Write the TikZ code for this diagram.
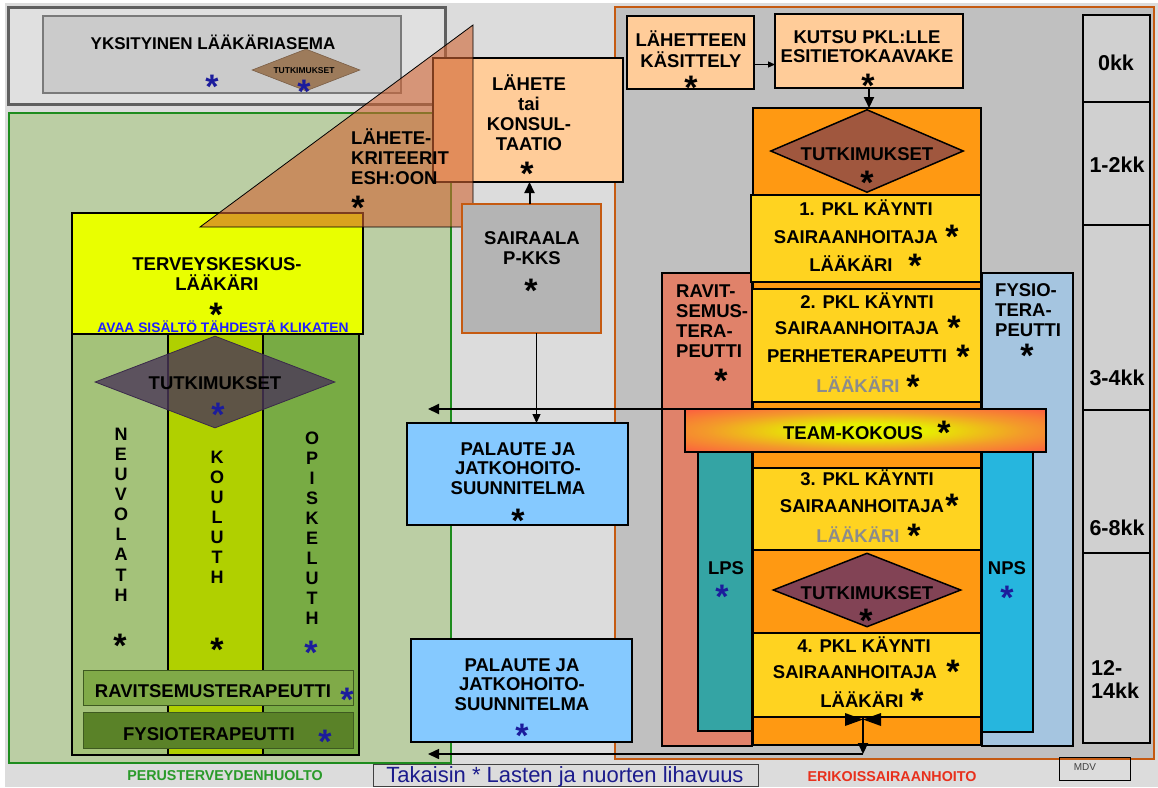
\documentclass[tikz,border=0pt]{standalone}
\usepackage{fontspec}
\setmainfont{Liberation Sans}
\usetikzlibrary{arrows.meta,shapes.geometric}
\definecolor{bgG}{HTML}{DCDCDC}
\definecolor{yksO}{HTML}{E0E0E0}
\definecolor{yksL}{HTML}{5F5F5F}
\definecolor{yksI}{HTML}{CBCBCB}
\definecolor{yksIL}{HTML}{7A7A7A}
\definecolor{smD}{HTML}{9D7B5B}
\definecolor{smL}{HTML}{7A5E46}
\definecolor{grB}{HTML}{BBCEA4}
\definecolor{grL}{HTML}{1E8C1E}
\definecolor{erB}{HTML}{C0C0C0}
\definecolor{erL}{HTML}{C55A11}
\definecolor{peach}{HTML}{FFCC99}
\definecolor{triC}{HTML}{D06433}
\definecolor{saiB}{HTML}{B4B4B4}
\definecolor{palB}{HTML}{85C9FF}
\definecolor{timeB}{HTML}{D0D0D0}
\definecolor{ravB}{HTML}{E0826A}
\definecolor{fysB}{HTML}{A5C5E0}
\definecolor{lpsB}{HTML}{34A4A4}
\definecolor{npsB}{HTML}{26B6DE}
\definecolor{orC}{HTML}{FF9912}
\definecolor{yeC}{HTML}{FFD320}
\definecolor{dOneC}{HTML}{A0573E}
\definecolor{dTwoC}{HTML}{824355}
\definecolor{tkY}{HTML}{E9FF00}
\definecolor{colA}{HTML}{A4C27A}
\definecolor{colB}{HTML}{B0D000}
\definecolor{colC}{HTML}{78AB44}
\definecolor{ldC}{HTML}{4A3658}
\definecolor{ldL}{HTML}{3A2A4A}
\definecolor{rvC}{HTML}{80AA48}
\definecolor{fyC}{HTML}{5A8228}
\definecolor{rvL}{HTML}{3E5A20}
\definecolor{stB}{HTML}{1C1C9C}
\definecolor{avB}{HTML}{2020FF}
\definecolor{grT}{HTML}{2A9A2A}
\definecolor{erT}{HTML}{E8301C}
\definecolor{tkT}{HTML}{1C1C8C}
\definecolor{gyT}{HTML}{8C8C8C}
\definecolor{tmY}{HTML}{E6F000}
\definecolor{tmO}{HTML}{F39A2A}
\definecolor{tmR}{HTML}{FF4848}
\pgfdeclareradialshading{teamsh}{\pgfpoint{0bp}{0bp}}{color(0bp)=(tmY); color(8bp)=(tmY); color(22bp)=(tmO); color(40bp)=(tmR); color(80bp)=(tmR)}
\newcommand\stx{\raisebox{-14.8pt}[9.6pt][0pt]{*}}
\begin{document}
\begin{tikzpicture}[x=1pt,y=-1pt,
  bx/.style={draw=black, line width=2.6pt, anchor=north west, inner sep=0pt, outer sep=0pt},
  lb/.style={font=\bfseries\fontsize{18.5}{20}\selectfont, align=center, inner sep=0pt},
  ln/.style={font=\bfseries\fontsize{18.5}{20}\selectfont, inner sep=0pt, anchor=base, yshift=-6.6pt},
  sr/.style={font=\bfseries\fontsize{34}{34}\selectfont, inner sep=0pt, anchor=center},
  arr/.style={-{Triangle[length=11pt,width=10pt]}, line width=2pt},
  tarr/.style={-{Triangle[length=7pt,width=6pt]}, line width=1.1pt},
  marr/.style={-{Triangle[length=9pt,width=8pt]}, line width=1.3pt}]
\useasboundingbox (0,0) rectangle (1158,787);
\fill[white] (0,0) rectangle (1158,787);
\node[anchor=north west, fill=bgG, minimum width=1153pt, minimum height=784pt, inner sep=0pt] (bg) at (5,3) {};

% private clinic
\node[bx, draw=yksL, line width=3pt, fill=yksO, minimum width=437pt, minimum height=97pt] (yksOut) at (8,7) {};
\node[bx, draw=yksIL, line width=1.2pt, fill=yksI, minimum width=358pt, minimum height=77pt] (yksIn) at (43,16) {};
\node[ln, font=\bfseries\fontsize{17}{19}\selectfont, yshift=0.5pt] (yksT) at (213,43) {YKSITYINEN LÄÄKÄRIASEMA};
\node[sr, text=stB] (yksS) at (212,79) {\stx};
\node[diamond, draw=smL, line width=.6pt, fill=smD, minimum width=108pt, minimum height=42pt, inner sep=0pt] (smDia) at (306,70) {};
\node[font=\bfseries\fontsize{8.5}{9}\selectfont, inner sep=0pt] (smT) at (304,71) {TUTKIMUKSET};
\node[sr, text=stB] (smS) at (304,84) {\stx};

% big regions
\node[bx, draw=grL, line width=2.6pt, fill=grB, minimum width=442pt, minimum height=650pt] (grn) at (9,113) {};
\node[bx, draw=erL, line width=2.2pt, fill=erB, minimum width=539pt, minimum height=752pt] (erk) at (615,7) {};

% primary care column structure
\node[bx, fill=colA, minimum width=96pt, minimum height=421pt] (cA) at (72,334) {};
\node[bx, fill=colB, minimum width=95pt, minimum height=421pt] (cB) at (168,334) {};
\node[bx, fill=colC, minimum width=96pt, minimum height=421pt] (cC) at (263,334) {};
\node[bx, fill=tkY, minimum width=291pt, minimum height=121pt] (tk) at (72,213) {};
\node[lb] (tkT) at (217,274) {TERVEYSKESKUS-\\LÄÄKÄRI};
\node[sr] (tkS) at (216,307) {\stx};
\node[ln, font=\bfseries\fontsize{13.8}{14}\selectfont, text=avB, yshift=1.6pt] (avaa) at (223,327) {AVAA SISÄLTÖ TÄHDESTÄ KLIKATEN};
\node[diamond, draw=ldL, line width=.8pt, fill=ldC, fill opacity=.8, minimum width=240pt, minimum height=92pt, inner sep=0pt] (ld) at (215,382) {};
\node[ln] (ldT) at (215,383) {TUTKIMUKSET};
\node[sr, text=stB] (ldS) at (218,407) {\stx};
\node[lb, font=\bfseries\fontsize{18}{20.1}\selectfont] (neu) at (121,514.5) {N\\E\\U\\V\\O\\L\\A\\T\\H};
\node[sr] (neuS) at (120,638) {\stx};
\node[lb, font=\bfseries\fontsize{18}{20}\selectfont] (kou) at (217,517) {K\\O\\U\\L\\U\\T\\H};
\node[sr] (kouS) at (217,642) {\stx};
\node[lb, font=\bfseries\fontsize{18}{20}\selectfont] (opi) at (312,528) {O\\P\\I\\S\\K\\E\\L\\U\\T\\H};
\node[sr, text=stB] (opiS) at (311,645) {\stx};
\node[bx, draw=rvL, line width=1pt, fill=rvC, minimum width=270pt, minimum height=35pt] (rav) at (83,670) {};
\node[ln] (ravT) at (213,691) {RAVITSEMUSTERAPEUTTI};
\node[sr, text=stB] (ravS) at (347,692) {\stx};
\node[bx, draw=rvL, line width=1pt, fill=fyC, minimum width=270pt, minimum height=36pt] (fys) at (83,712) {};
\node[ln] (fysT) at (209,734) {FYSIOTERAPEUTTI};
\node[sr, text=stB] (fysS) at (325,734) {\stx};
\node[ln, font=\bfseries\fontsize{14.3}{15}\selectfont, text=grT, yshift=1.5pt] (perT) at (225,775) {PERUSTERVEYDENHUOLTO};

% referral
\node[bx, fill=peach, minimum width=190pt, minimum height=124pt] (lah) at (433,58) {};
\node[lb] (lahT) at (529,113) {LÄHETE\\tai\\KONSUL-\\TAATIO};
\node[sr] (lahS) at (527,166) {\stx};
\path[fill=triC, fill opacity=.6, draw=black, line width=.8pt] (473,25) -- (473,227) -- (200,227) -- cycle;
\node[lb, align=left, anchor=west] (kri) at (351,157) {LÄHETE-\\KRITEERIT\\ESH:OON};
\node[sr] (kriS) at (358,200) {\stx};

% hospital
\node[bx, draw=erL, line width=2.2pt, fill=saiB, minimum width=139pt, minimum height=129pt] (sai) at (462,204) {};
\node[lb] (saiT) at (532,248) {SAIRAALA\\P-KKS};
\node[sr] (saiS) at (531,283) {\stx};

% feedback boxes
\node[bx, fill=palB, minimum width=221pt, minimum height=102pt] (palA) at (407,423) {};
\node[lb, font=\bfseries\fontsize{18.5}{19.5}\selectfont] (palAT) at (518,468.5) {PALAUTE JA\\JATKOHOITO-\\SUUNNITELMA};
\node[sr] (palAS) at (518,513) {\stx};
\node[bx, fill=palB, minimum width=221pt, minimum height=103pt] (palB) at (411,639) {};
\node[lb, font=\bfseries\fontsize{18.5}{19.5}\selectfont] (palBT) at (522,684.5) {PALAUTE JA\\JATKOHOITO-\\SUUNNITELMA};
\node[sr, text=stB] (palBS) at (522,728) {\stx};

% specialist care top
\node[bx, fill=peach, minimum width=127pt, minimum height=73pt] (kas) at (627,16) {};
\node[lb, font=\bfseries\fontsize{18.5}{21}\selectfont] (kasT) at (691,49.5) {LÄHETTEEN\\KÄSITTELY};
\node[sr] (kasS) at (691,80) {\stx};
\node[bx, fill=peach, minimum width=188pt, minimum height=74pt] (kut) at (775,14) {};
\node[lb, font=\bfseries\fontsize{18.5}{19}\selectfont] (kutT) at (867,46.5) {KUTSU PKL:LLE\\ESITIETOKAAVAKE};
\node[sr] (kutS) at (868,78) {\stx};

% time column
\node[bx, fill=timeB, minimum width=67pt, minimum height=87pt] (tmA) at (1083,15) {};
\node[bx, fill=timeB, minimum width=67pt, minimum height=123pt] (tmB) at (1083,102) {};
\node[bx, fill=timeB, minimum width=67pt, minimum height=185pt] (tmC) at (1083,225) {};
\node[bx, fill=timeB, minimum width=67pt, minimum height=143pt] (tmD) at (1083,410) {};
\node[bx, fill=timeB, minimum width=67pt, minimum height=190pt] (tmE) at (1083,553) {};
\node[ln, font=\bfseries\fontsize{21.5}{23}\selectfont, yshift=-1.1pt] (tmAT) at (1116,63) {0kk};
\node[ln, font=\bfseries\fontsize{21.5}{23}\selectfont, yshift=-1.1pt] (tmBT) at (1117,165) {1-2kk};
\node[ln, font=\bfseries\fontsize{21.5}{23}\selectfont, yshift=-1.1pt] (tmCT) at (1117,378) {3-4kk};
\node[ln, font=\bfseries\fontsize{21.5}{23}\selectfont, yshift=-1.1pt] (tmDT) at (1117,528) {6-8kk};
\node[lb, font=\bfseries\fontsize{21.5}{23}\selectfont, align=left, anchor=west] (tmET) at (1091,679.5) {12-\\14kk};

% specialist care main column
\node[bx, fill=ravB, minimum width=90pt, minimum height=473pt] (rvs) at (662,273) {};
\node[bx, fill=fysB, minimum width=91pt, minimum height=473pt] (fst) at (982,273) {};
\node[bx, fill=lpsB, minimum width=54pt, minimum height=279pt] (lps) at (698,452) {};
\node[bx, fill=npsB, minimum width=51pt, minimum height=280pt] (nps) at (982,452) {};
\node[bx, fill=orC, minimum width=228pt, minimum height=637pt] (orc) at (753,108) {};
\node[bx, fill=yeC, minimum width=230pt, minimum height=87pt] (yA) at (751,195) {};
\node[bx, fill=yeC, minimum width=229pt, minimum height=113pt] (yB) at (752,289) {};
\node[bx, fill=yeC, minimum width=228pt, minimum height=82pt] (yC) at (753,468) {};
\node[bx, fill=yeC, minimum width=228pt, minimum height=84pt] (yD) at (753,633) {};
\node[diamond, draw=black, line width=1.5pt, fill=dOneC, minimum width=193pt, minimum height=83pt, inner sep=0pt] (dA) at (867,151) {};
\node[diamond, draw=black, line width=1.5pt, fill=dTwoC, minimum width=188pt, minimum height=74pt, inner sep=0pt] (dB) at (867,590) {};
\node[bx, shading=teamsh, minimum width=361pt, minimum height=43pt] (team) at (685,409) {};

\node[lb, align=left, anchor=west] (rvsT) at (676,321) {RAVIT-\\SEMUS-\\TERA-\\PEUTTI};
\node[sr] (rvsS) at (721,373) {\stx};
\node[lb, align=left, anchor=west] (fstT) at (995,310) {FYSIO-\\TERA-\\PEUTTI};
\node[sr] (fstS) at (1027,348) {\stx};
\node[ln] (lpsT) at (726,568) {LPS};
\node[sr, text=stB] (lpsS) at (722,589) {\stx};
\node[ln] (npsT) at (1007,568) {NPS};
\node[sr, text=stB] (npsS) at (1007,590) {\stx};

\node[ln] (dAT) at (867,154) {TUTKIMUKSET};
\node[sr] (dAS) at (867,175) {\stx};
\node[ln] (yA1) at (866,209) {1. PKL KÄYNTI};
\node[ln] (yA2) at (856,237) {SAIRAANHOITAJA};
\node[sr] (yA2S) at (952,229) {\stx};
\node[ln] (yA3) at (851,265) {LÄÄKÄRI};
\node[sr] (yA3S) at (915,258) {\stx};
\node[ln] (yB1) at (867,302) {2. PKL KÄYNTI};
\node[ln] (yB2) at (857,328) {SAIRAANHOITAJA};
\node[sr] (yB2S) at (954,320) {\stx};
\node[ln] (yB3) at (857,356) {PERHETERAPEUTTI};
\node[sr] (yB3S) at (963,349) {\stx};
\node[ln, text=gyT] (yB4) at (858,386) {LÄÄKÄRI};
\node[sr] (yB4S) at (913,379) {\stx};
\node[ln] (teamT) at (853,433) {TEAM-KOKOUS};
\node[sr] (teamS) at (944,425) {\stx};
\node[ln] (yC1) at (867,479) {3. PKL KÄYNTI};
\node[ln] (yC2) at (862,506) {SAIRAANHOITAJA};
\node[sr] (yC2S) at (952,498) {\stx};
\node[ln, text=gyT] (yC3) at (858,536) {LÄÄKÄRI};
\node[sr] (yC3S) at (914,528) {\stx};
\node[ln] (dBT) at (867,593) {TUTKIMUKSET};
\node[sr] (dBS) at (866,613) {\stx};
\node[ln] (yD1) at (864,646) {4. PKL KÄYNTI};
\node[ln] (yD2) at (855,672) {SAIRAANHOITAJA};
\node[sr] (yD2S) at (953,664) {\stx};
\node[ln] (yD3) at (862,701) {LÄÄKÄRI};
\node[sr] (yD3S) at (917,693) {\stx};

% footer
\node[bx, draw=black!75, line width=1pt, minimum width=385pt, minimum height=22pt] (tak) at (373,764) {};
\node[font=\fontsize{22}{22}\selectfont, text=tkT, inner sep=0pt, anchor=base] (takT) at (565,782) {Takaisin * Lasten ja nuorten lihavuus};
\node[ln, font=\bfseries\fontsize{14.3}{15}\selectfont, text=erT, yshift=1.5pt] (erT) at (892,776) {ERIKOISSAIRAANHOITO};
\node[bx, line width=1pt, minimum width=71pt, minimum height=23pt] (mdv) at (1059,757) {};
\node[font=\fontsize{10}{10}\selectfont, text=black!75, inner sep=0pt] (mdvT) at (1085,767) {MDV};

% connectors
\coordinate (fbA) at (428,409);
\coordinate (fbB) at (428,754);
\draw[tarr] ([yshift=-12pt]kas.east) -- ([yshift=-12pt]kas.east -| kut.west);
\draw[arr] (kut.south) -- (kut.south |- orc.north);
\draw[arr] ([xshift=-2pt]sai.north) -- ([xshift=-2pt]sai.north |- lah.south);
\draw[marr] ([xshift=5pt]sai.south) -- ([xshift=5pt]sai.south |- palA.north);
\draw[arr] (team.north east) -- (fbA);
\fill (845,713) -- (863,719.5) -- (845,726) -- cycle;
\fill (881,713) -- (863,719.5) -- (881,726) -- cycle;
\draw[arr] ([xshift=-4pt]yD.south) -- ([xshift=-4pt]yD.south |- fbB);
\draw[arr, line width=1.5pt] ([xshift=-4pt]yD.south |- fbB) -- (fbB);
\end{tikzpicture}
\end{document}
